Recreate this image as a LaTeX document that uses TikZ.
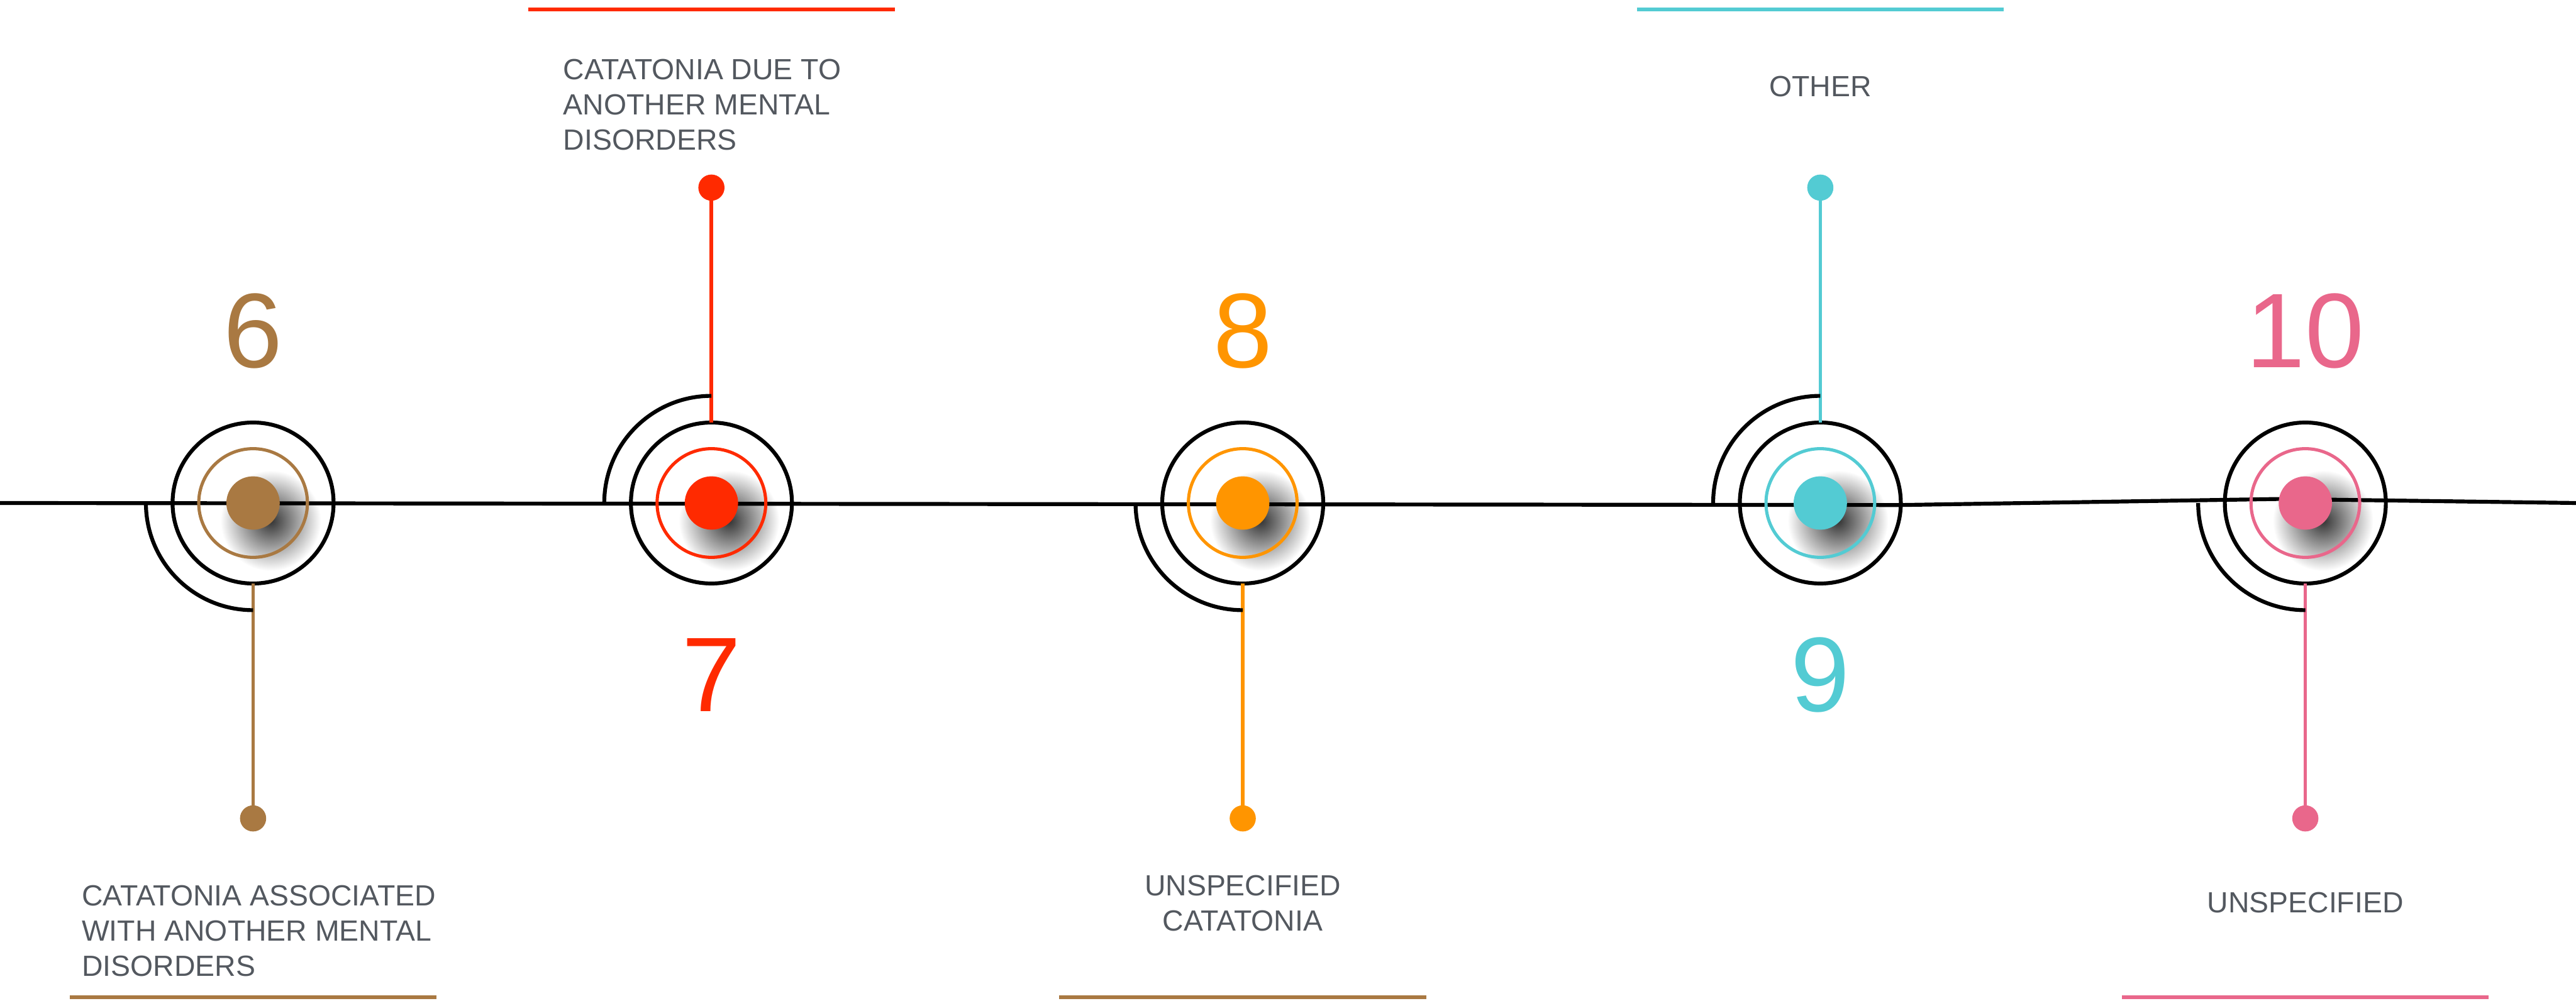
\documentclass[tikz,border=0pt]{standalone}
\usepackage{fontspec}
\setmainfont{Liberation Sans}
\usetikzlibrary{calc}

\definecolor{cbrown}{HTML}{A97942}
\definecolor{cred}{HTML}{FF2A00}
\definecolor{corange}{HTML}{FF9500}
\definecolor{ccyan}{HTML}{53CBD3}
\definecolor{cpink}{HTML}{E9678B}
\definecolor{ctext}{HTML}{53585F}

\tikzset{
	ring/.style={circle,draw=black,line width=2.2pt,minimum size=3.2cm,inner sep=0pt,outer sep=0pt},
	innerring/.style={circle,draw=#1,line width=1.8pt,minimum size=2.16cm,inner sep=0pt},
	hubdot/.style={circle,fill=#1,minimum size=1.06cm,inner sep=0pt},
	enddot/.style={circle,fill=#1,minimum size=0.52cm,inner sep=0pt,outer sep=0pt},
	stem/.style={draw=#1,line width=2pt},
	spiral/.style={line width=2.2pt},
	bar/.style={draw=#1,line width=2.2pt},
	bignum/.style={text=#1,font=\fontsize{60}{60}\selectfont,inner sep=0pt},
	desc/.style={text=ctext,font=\fontsize{16.5}{19.9}\selectfont,inner sep=0pt,align=#1}
}

\begin{document}
\begin{tikzpicture}
		\useasboundingbox (0,-9.89) rectangle (51.2,10);
		% Centres
		\foreach \x/\n in {5.03/6,14.14/7,24.70/8,36.18/9,45.82/10}{
				\coordinate (c\n) at (\x,0);
			}
		% Shadows under the dots
		\foreach \n in {6,7,8,9,10}{
				\shade[inner color=black!80,outer color=white] ($(c\n)+(0.35,-0.35)$) circle (1.0);
			}
		% Timeline
		\coordinate (start) at (0,0);
		\coordinate (end) at (51.2,0);
		\draw[line width=2.2pt] (start)--($(c9)+(1.6,-0.04)$)--($(c10)+(-0.53,0.08)$)--(end);
		% Hubs, stems, spirals & numbers
		\foreach \n/\c/\s/\a in {6/cbrown/-1/south,7/cred/1/north,8/corange/-1/south,9/ccyan/1/north,10/cpink/-1/south}{
				\node[ring] (h\n) at (c\n) {};
				\node[innerring=\c] (i\n) at (c\n) {};
				\node[hubdot=\c] (d\n) at (c\n) {};
				\node[enddot=\c] (e\n) at ($(c\n)+(0,{6.27*(\s)})$) {};
				\draw[stem=\c] (h\n.\a)--(e\n);
				\draw[spiral] ($(c\n)+(-2.13,0)$) arc[start angle=180,end angle={180-90*(\s)},radius=2.13];
				\node[bignum=\c] (n\n) at ($(c\n)+(0,{-3.42*(\s)})$) {\n};
			}
		% Descriptions
		\node[desc=left,anchor=north west] (t6) at (1.62,-7.60) {CATATONIA ASSOCIATED\\WITH ANOTHER MENTAL\\DISORDERS};
		\node[desc=left,anchor=north west] (t7) at (11.19,8.83) {CATATONIA DUE TO\\ANOTHER MENTAL\\DISORDERS};
		\node[desc=center,anchor=north] (t8) at (24.70,-7.39) {UNSPECIFIED\\CATATONIA};
		\node[desc=center,anchor=north] (t9) at (36.18,8.49) {OTHER};
		\node[desc=center,anchor=north] (t10) at (45.82,-7.73) {UNSPECIFIED};
		% Bars
		\foreach \n/\c/\y in {6/cbrown/-9.82,7/cred/9.81,8/cbrown/-9.82,9/ccyan/9.81,10/cpink/-9.82}{
				\draw[bar=\c] ($(c\n)+(-3.645,\y)$)--++(7.29,0);
			}
	\end{tikzpicture}
\end{document}
